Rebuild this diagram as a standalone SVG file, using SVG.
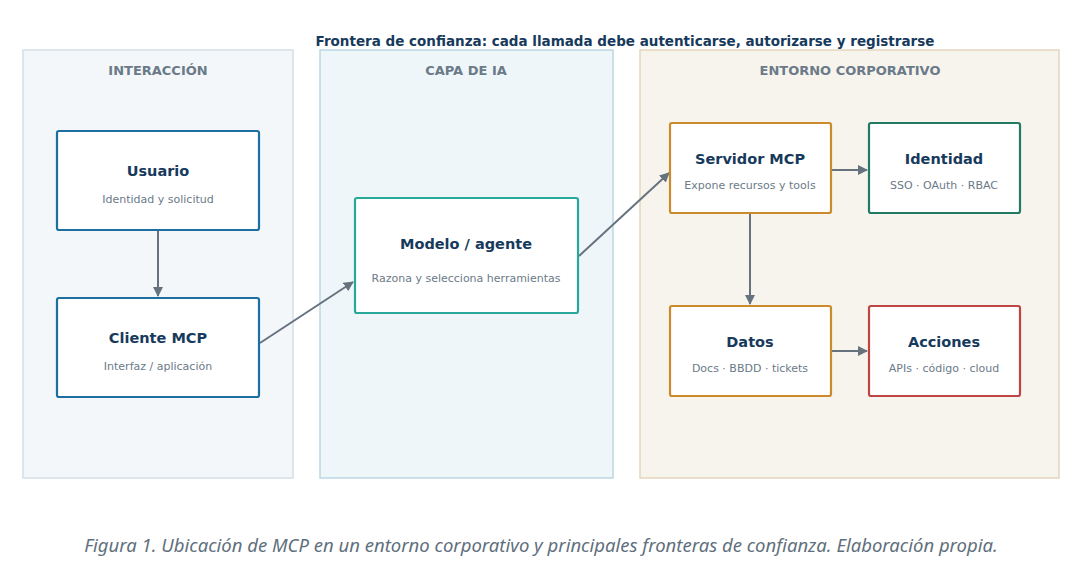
<svg xmlns="http://www.w3.org/2000/svg" width="1091" height="578" viewBox="0 0 1091 578">
<style>
text{font-family:"DejaVu Sans",Verdana,sans-serif}
.zt{font-size:13px;font-weight:bold;fill:#6b7a88;text-anchor:middle}
.t{font-size:14.5px;font-weight:bold;fill:#173a5c;text-anchor:middle}
.s{font-size:11px;fill:#6b7a88;text-anchor:middle}
.n{fill:#fff;stroke-width:2.2}
.c{stroke:#66737f;stroke-width:2;fill:none;marker-end:url(#a)}
</style>
<defs><marker id="a" viewBox="0 0 10 10" refX="9" refY="5" markerWidth="5" markerHeight="5" orient="auto"><path d="M0,0L10,5L0,10z" fill="#66737f"/></marker></defs>
<rect width="1091" height="578" fill="#fff"/>
<text x="625" y="46" style="font-size:13.5px;font-weight:bold;fill:#173a5c;text-anchor:middle">Frontera de confianza: cada llamada debe autenticarse, autorizarse y registrarse</text>
<g id="zona-interaccion"><rect x="23" y="50" width="270" height="428" fill="#f3f7fa" stroke="#d3dfe6" stroke-width="1.5"/><text class="zt" x="158" y="75">INTERACCIÓN</text></g>
<g id="zona-ia"><rect x="320" y="50" width="293" height="428" fill="#eef6f9" stroke="#bcd7e2" stroke-width="1.5"/><text class="zt" x="466" y="75">CAPA DE IA</text></g>
<g id="zona-corp"><rect x="640" y="50" width="419" height="428" fill="#f7f4ed" stroke="#e3d6bd" stroke-width="1.5"/><text class="zt" x="850" y="75">ENTORNO CORPORATIVO</text></g>
<g id="connectors">
<line class="c" x1="158" y1="231" x2="158" y2="296"/>
<line class="c" x1="260" y1="343" x2="353" y2="282"/>
<line class="c" x1="579" y1="256" x2="669" y2="173"/>
<line class="c" x1="832" y1="170" x2="867" y2="170"/>
<line class="c" x1="750" y1="214" x2="750" y2="304"/>
<line class="c" x1="832" y1="351" x2="867" y2="351"/>
</g>
<g id="usuario"><rect class="n" x="57" y="131" width="202" height="99" rx="2" stroke="#1c6fa0"/><text class="t" x="158" y="176">Usuario</text><text class="s" x="158" y="203">Identidad y solicitud</text></g>
<g id="cliente"><rect class="n" x="57" y="298" width="202" height="99" rx="2" stroke="#1c6fa0"/><text class="t" x="158" y="343">Cliente MCP</text><text class="s" x="158" y="370">Interfaz / aplicación</text></g>
<g id="modelo"><rect class="n" x="355" y="198" width="223" height="115" rx="2" stroke="#2aa79b"/><text class="t" x="466" y="249">Modelo / agente</text><text class="s" x="466" y="282">Razona y selecciona herramientas</text></g>
<g id="servidor"><rect class="n" x="670" y="123" width="161" height="90" rx="2" stroke="#cc8a2a"/><text class="t" x="750" y="164">Servidor MCP</text><text class="s" x="750" y="189">Expone recursos y tools</text></g>
<g id="identidad"><rect class="n" x="869" y="123" width="151" height="90" rx="2" stroke="#237a64"/><text class="t" x="944" y="164">Identidad</text><text class="s" x="944" y="189">SSO · OAuth · RBAC</text></g>
<g id="datos"><rect class="n" x="670" y="306" width="161" height="90" rx="2" stroke="#cc8a2a"/><text class="t" x="750" y="347">Datos</text><text class="s" x="750" y="372">Docs · BBDD · tickets</text></g>
<g id="acciones"><rect class="n" x="869" y="306" width="151" height="90" rx="2" stroke="#bf4444"/><text class="t" x="944" y="347">Acciones</text><text class="s" x="944" y="372">APIs · código · cloud</text></g>
<text x="541" y="552" style="font-family:'Noto Sans',sans-serif;font-size:18.5px;font-style:italic;fill:#5f6f7d;text-anchor:middle">Figura 1. Ubicación de MCP en un entorno corporativo y principales fronteras de confianza. Elaboración propia.</text>
</svg>
